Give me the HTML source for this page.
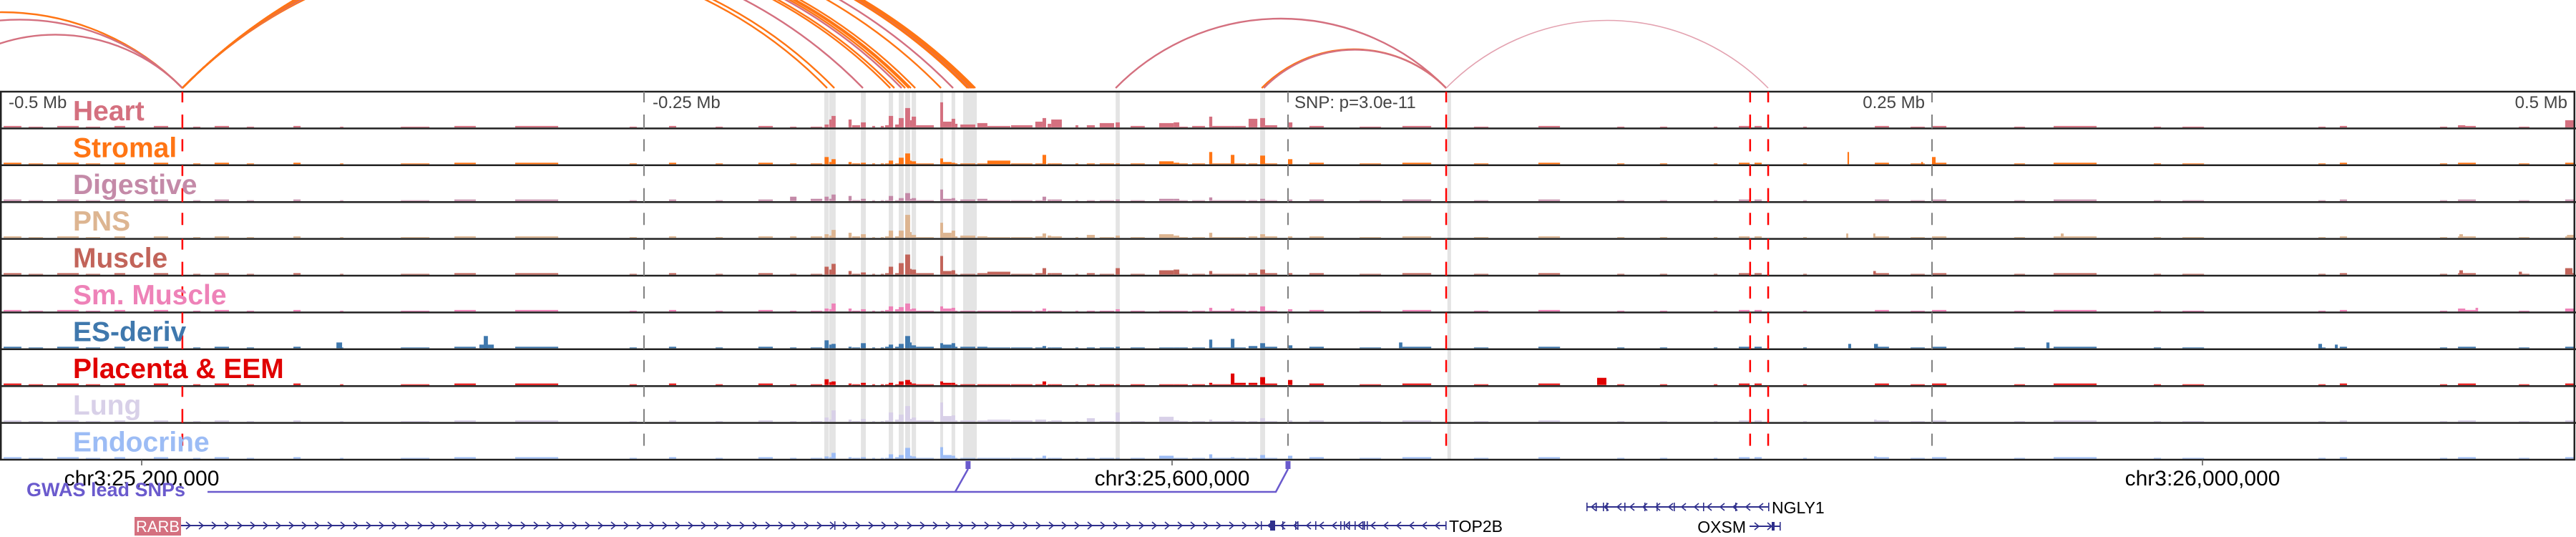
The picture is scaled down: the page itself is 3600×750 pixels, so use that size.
<!DOCTYPE html>
<html><head><meta charset="utf-8">
<style>
html,body{margin:0;padding:0;background:#fff;}
svg{display:block;font-family:"Liberation Sans",Arial,sans-serif;}
</style></head>
<body>
<svg id="chart" width="3600" height="750" viewBox="0 0 3600 750" xmlns="http://www.w3.org/2000/svg">
<defs><clipPath id="arcclip"><rect x="0" y="0" width="3600" height="125"/></clipPath></defs>
<g id="bands"></g>
<g id="arcs" clip-path="url(#arcclip)"></g>
<g id="bars"></g>
<g id="seps"></g>
<g id="vlines"></g>
<g id="labels"></g>
<g id="axis"></g>
<g id="gwas"></g>
<g id="genes"></g>
</svg>
<script>
// ---------- data ----------
const trackNames = ["Heart","Stromal","Digestive","PNS","Muscle","Sm. Muscle","ES-deriv","Placenta & EEM","Lung","Endocrine"];
const trackColors = ["#d4707f","#ff7514","#c48aa8","#ddb591","#c2645a","#ee82b8","#3f78ad","#e00000","#d8d0e8","#9cbcf5"];
const binStartKb = [-193.3,-185.3,-179.9,-178.1,-177.2,-170.6,-169.2,-165.8,-161.4,-158.1,-156.4,-155.0,-152.5,-151.1,-148.6,-146.7,-146.1,-144.4,-135.0,-133.9,-130.6,-129.2,-127.2,-120.6,-116.7,-107.5,-98.1,-95.3,-93.3,-91.9,-82.5,-78.1,-73.1,-66.9,-61.1,-50.0,-44.4,-42.2,-37.2,-30.6,-29.4,-22.2,-20.8,-15.3,-10.8,-8.9,0];
const binEndKb = [-190.8,-180.8,-178.3,-177.2,-175.6,-169.4,-166.1,-163.9,-160.3,-156.9,-155.0,-153.3,-151.1,-149.2,-146.7,-146.1,-144.4,-137.5,-133.9,-130.6,-129.2,-128.3,-121.4,-116.7,-107.8,-99.2,-95.3,-93.9,-91.9,-87.8,-81.4,-75.0,-67.5,-65.3,-55.6,-44.4,-42.2,-38.9,-32.2,-29.4,-22.2,-20.8,-16.4,-11.9,-8.9,-4.2,1.7];
const heartVals = [1,1,4,11,16,11,3,7,2,2,3,16,4,13,27,10,15,3,35,8,12,5,4,6,2,3,8,13,5,11,3,3,6,7,2,6,7,1,2,15,2,2,2,12,13,3,7];
const stromalVals = [1,1,10,3,7,3,1,2,1,1,1,5,1,9,15,5,4,1,8,3,2,1,1,1,5,1,1,13,1,1,1,1,1,1,1,4,2,1,1,17,1,13,1,1,12,1,7];
const digestiveVals = [6,3,6,3,9,7,1,3,1,1,1,7,1,4,11,3,4,1,16,3,4,1,2,3,1,1,1,6,2,2,1,1,1,2,1,3,3,1,1,5,1,1,1,1,3,1,2];
const pnsVals = [2,2,5,3,11,7,2,5,1,1,2,10,2,10,32,8,4,1,21,7,10,2,3,2,1,1,2,6,3,2,1,4,1,3,1,5,3,1,1,7,1,1,1,2,5,2,2];
const muscleVals = [1,1,11,7,15,5,1,3,1,1,2,11,2,16,28,8,7,2,26,5,6,1,1,2,4,1,2,9,2,2,1,2,1,9,1,6,7,1,1,5,1,1,1,2,7,2,2];
const smMuscleVals = [1,1,4,3,11,4,1,3,1,1,2,7,3,6,11,3,4,1,7,4,5,1,1,1,1,1,1,4,1,1,1,1,1,3,1,1,1,1,1,5,1,4,1,1,7,1,3];
const esDerivVals = [1,1,11,5,6,2,1,7,1,1,2,5,2,6,17,8,4,2,7,5,7,2,2,2,1,1,1,3,1,1,1,1,1,2,1,1,1,1,1,12,1,13,1,3,7,2,4];
const placentaVals = [1,1,8,4,5,2,1,3,1,1,1,3,1,5,7,4,2,1,5,3,3,1,1,1,1,1,1,5,1,1,1,1,1,1,1,1,1,1,1,3,1,16,3,3,11,2,7];
const lungVals = [1,1,6,3,16,3,1,4,1,1,2,13,3,10,22,4,6,2,27,8,9,2,2,2,3,2,3,3,1,2,1,5,1,13,1,7,2,1,1,3,1,2,1,1,5,1,2];
const endocrineVals = [1,1,3,2,8,2,1,2,1,1,1,6,2,5,15,4,3,1,16,5,4,1,1,1,1,1,1,4,1,1,1,1,1,1,1,4,1,1,1,6,1,2,1,1,5,1,4];
const trackVals = [heartVals,stromalVals,digestiveVals,pnsVals,muscleVals,smMuscleVals,esDerivVals,placentaVals,lungVals,endocrineVals];
// background sparse bins (shared)
const bgStartKb = [-498.6,-488.9,-477.8,-466.7,-455.6,-440.3,-425,-416.7,-404.2,-386.1,-368,-344.4,-323.6,-300,-255.6,-240.3,-222.2,-205.6,8.3,27.8,44.4,72.2,97.2,127.8,144.4,165.3,175,181.1,200,227.8,241.7,250,281.9,297.2,336.1,347.2,400,408.3,447.2,454.2,477.8,495.8];
const bgEndKb = [-491.7,-483.3,-469.4,-461.1,-451.4,-434.7,-422.2,-411.1,-401.4,-383.3,-366.7,-333.3,-315.3,-283.3,-252.8,-237.5,-219.4,-200,13.9,36.1,55.6,77.8,105.6,130.6,147.2,166.7,179.2,183.9,201.4,233.3,247.2,255.6,286.1,313.9,338.9,355.6,402.8,411.1,450,461.1,481.9,499.4];
const bgVals = [2,1,2,1,2,2,1,2,1,2,1,1,2,2,1,2,1,2,2,1,2,1,2,1,1,1,2,2,1,2,1,2,1,2,1,1,1,2,1,2,1,2];
// extra isolated peaks: track index, start/end kb, value
const extraTrack = [6,6,6,6,6,6,6,6,6,7,1,1,1,0,0,4,4,4,4,3,3,3,3,3,5,5,5,8,9];
const extraStartKb = [-369.4,-313.9,-312.2,43.1,217.5,227.5,294.4,400,406.4,120,217.2,250,245.8,495.8,454.2,454.7,495.8,477.8,227.2,216.7,227.2,300,454.7,496.5,454.2,461,495.8,227.5,227.5];
const extraEndKb = [-367.2,-308.3,-310.6,44.4,218.6,229,295.6,401.4,407.5,123.6,217.8,251.4,246.5,499.2,457,456.1,498.6,479,228.2,217.5,228,301.1,456.1,499.4,457,462,499.4,228.5,228.5];
const extraVals = [8,5,17,8,6,6,8,6,5,10,17,10,3,10,3,6,9,4,5,6,6,6,5,4,4,5,4,3,3];
// highlight regions (kb)
const bandStartKb = [-180,-178.1,-165.8,-155,-151.1,-148.6,-146.1,-135,-130.6,-126.1,-66.9,-10.8,61.9];
const bandEndKb = [-178.3,-175.6,-163.9,-153.3,-149.2,-146.7,-144.4,-133.9,-129.2,-120.8,-65.3,-8.9,63.3];
// marker lines
const redLineKb = [-429.2,61.4,179.4,186.4];
const grayLineKb = [-250,0,250];
const tickKb = [-500,-250,250,500];
const tickLabels = ["-0.5 Mb","-0.25 Mb","0.25 Mb","0.5 Mb"];
const chrLabelKb = [-445,-45,355];
const chrLabels = ["chr3:25,200,000","chr3:25,600,000","chr3:26,000,000"];
// arcs
const arcStartKb = [-569.4,-555.6,-527.8,-429.2,-429.2,-429.2,-429.2,-429.2,-429.2,-429.2,-429.2,-429.2,-429.2,-429.2,-429.2,-429.2,-429.2,-429.2,-429.2,-429.2,-429.2,-429.2,-429.2,-66.9,-10.2,-9.4,61.4];
const arcEndKb = [-429.2,-429.2,-429.2,-178.9,-176.1,-165,-154.4,-152.8,-150,-148.6,-147.2,-146.4,-144.7,-134.7,-130,-124.4,-123.9,-123.6,-123.1,-122.8,-122.3,-121.9,-121.4,61.4,61.4,61.4,186.4];
const arcKind = ["o","p","p","o","o","p","o","o","p","o","o","o","o","o","p","o","o","o","p","o","o","o","o","p","o","p","l"];
const snpKb = [-124.2,0];

// ---------- scales ----------
const PX_PER_KB = 3.6, X0 = 1800;
const xS = kb => X0 + kb*PX_PER_KB;
const TOP = 128, TH = 51.4;
const trackBottom = i => TOP + (i+1)*TH - 1.5;
const yS = (i,v) => trackBottom(i) - v;
const NS = "http://www.w3.org/2000/svg";
function mk(tag, attrs, parent){const e=document.createElementNS(NS,tag);for(const k in attrs)e.setAttribute(k,attrs[k]);parent.appendChild(e);return e;}
const $ = id => document.getElementById(id);

// bands
bandStartKb.forEach((s,i)=>{
  const r = mk('rect',{x:xS(s),y:TOP,width:Math.max(1,xS(bandEndKb[i])-xS(s)),height:TH*10,fill:'#e4e4e4'},$('bands'));
  
  
});

// bars
function bar(t,s,e,v,parent){
  const x1=xS(s), x2=xS(e);
  const r = mk('rect',{x:x1,y:yS(t,v),width:Math.max(1.2,x2-x1),height:v,fill:trackColors[t]},parent);
  
  
}
trackVals.forEach((vals,t)=>{
  const g = mk('g',{},$('bars'));
  
  
  vals.forEach((v,i)=>bar(t,binStartKb[i],binEndKb[i],v,g));
  bgVals.forEach((v,i)=>bar(t,bgStartKb[i],bgEndKb[i],v,g));
  extraTrack.forEach((tr,i)=>{ if(tr===t) bar(t,extraStartKb[i],extraEndKb[i],extraVals[i],g); });
});

// separators & border
for(let i=1;i<10;i++){
  const l = mk('line',{x1:0,x2:3600,y1:TOP+i*TH,y2:TOP+i*TH,stroke:'#222','stroke-width':2.5},$('seps'));
  
  
}
const border = mk('rect',{x:1.2,y:TOP,width:3596.6,height:TH*10,fill:'none',stroke:'#222','stroke-width':2.5},$('seps'));



// vertical marker lines
const dash = "15 17 19.4";
grayLineKb.forEach(k=>{
  const l = mk('line',{x1:xS(k),x2:xS(k),y1:TOP,y2:TOP+TH*10,stroke:'#808080','stroke-width':2,'stroke-dasharray':dash},$('vlines'));
  
  
});
redLineKb.forEach(k=>{
  const l = mk('line',{x1:xS(k),x2:xS(k),y1:TOP,y2:TOP+TH*10,stroke:'#ff0000','stroke-width':2.5,'stroke-dasharray':dash},$('vlines'));
  
  
});

// arcs (circular segments, sagitta = 0.42 * half chord)
const arcColors = {o:'#ff7514',p:'#d4707f',l:'#e3a2b0'};
arcStartKb.forEach((s,i)=>{
  const x1=xS(s), x2=xS(arcEndKb[i]);
  const rx=(x2-x1)/2, h=0.42*rx, R=(rx*rx+h*h)/(2*h);
  const p = mk('path',{d:`M${x1},123 A${R},${R} 0 0 1 ${x2},123`,fill:'none',stroke:arcColors[arcKind[i]],'stroke-width':arcKind[i]==='l'?1.6:2.4},$('arcs'));
  
  
});

// track labels
trackNames.forEach((n,i)=>{
  const t = mk('text',{x:102,y:TOP+i*TH+40,fill:trackColors[i],'font-size':39,'font-weight':'bold'},$('labels'));
  t.textContent=n;
  
  
});

// axis ticks (top)
tickKb.forEach((k,i)=>{
  const x=xS(k);
  const anchor = i<2 ? 'start':'end';
  const t = mk('text',{x: i<2 ? Math.max(9,x+12) : Math.min(3588,x-10),y:151,fill:'#444','font-size':24,'text-anchor':anchor},$('axis'));
  t.textContent=tickLabels[i];
  
  
});
const snpT = mk('text',{x:1809,y:151,fill:'#444','font-size':24},$('axis'));
snpT.textContent='SNP: p=3.0e-11';


chrLabelKb.forEach((k,i)=>{
  const tk = mk('line',{x1:xS(k),x2:xS(k),y1:642,y2:650,stroke:'#555','stroke-width':1.5},$('axis'));
  
  
  const t = mk('text',{x:xS(k),y:678,fill:'#000','font-size':30,'text-anchor':'middle'},$('axis'));
  t.textContent=chrLabels[i];
  
  
});

// GWAS track
const gw=$('gwas');
const gl = mk('text',{x:37,y:693,fill:'#6a5acd','font-size':27,'font-weight':'bold'},gw);
gl.textContent='GWAS lead SNPs';


const s1=xS(snpKb[0]), s2=xS(snpKb[1]);
const gp = mk('path',{d:`M290,687 L${s1-18},687 L${s1},655 M${s1-18},687 L${s2-17},687 L${s2},655`,fill:'none',stroke:'#6a5acd','stroke-width':2.5},gw);


snpKb.forEach(k=>{
  const r = mk('rect',{x:xS(k)-3.5,y:644,width:7,height:11,fill:'#6a5acd'},gw);
  
  
});

// genes
const gn=$('genes'), GC='#2f2f8c';
function geneLine(x1,x2,y,dir,name){
  const g = mk('g',{},gn);
  
  
  mk('line',{x1:x1,x2:x2,y1:y,y2:y,stroke:GC,'stroke-width':2},g);
  let d='';
  for(let x=x1+10;x<x2-6;x+=18){
    d+= dir>0 ? `M${x-3},${y-5} L${x+3},${y} L${x-3},${y+5} ` : `M${x+3},${y-5} L${x-3},${y} L${x+3},${y+5} `;
  }
  mk('path',{d:d,fill:'none',stroke:GC,'stroke-width':1.6},g);
  return g;
}
function exon(x,y,w,h,g){mk('rect',{x:x,y:y-h/2,width:w,height:h,fill:GC},g);}
const rbox = mk('rect',{x:188,y:722,width:65,height:26,fill:'#d4707f'},gn);


const rt = mk('text',{x:220.5,y:743,fill:'#fff','font-size':22,'text-anchor':'middle'},gn);
rt.textContent='RARB';


const rarb = geneLine(253,1765,734,1,'rarb-gene');
[1166,1762].forEach(x=>exon(x,734,1.5,12,rarb));
const top2b = geneLine(1765,2021,734,-1,'top2b-gene');
exon(1775,734,7,14,top2b);
[1780,1792,1810,1813,1838,1873,1878,1885,1893,1904,1906,1910,2020].forEach(x=>exon(x,734,1.6,12,top2b));
const tt = mk('text',{x:2025,y:743,fill:'#000','font-size':23},gn);
tt.textContent='TOP2B';


const ngly = geneLine(2217,2471,708,-1,'ngly1-gene');
[2217,2230,2240,2245,2270,2298,2315,2339,2380,2425,2471].forEach(x=>exon(x,708,1.6,12,ngly));
const nt = mk('text',{x:2476,y:717,fill:'#000','font-size':23},gn);
nt.textContent='NGLY1';


const oxsm = geneLine(2445,2488,735,1,'oxsm-gene');
exon(2476,735,4,12,oxsm); exon(2487,735,1.6,12,oxsm);
const ot = mk('text',{x:2440,y:744,fill:'#000','font-size':23,'text-anchor':'end'},gn);
ot.textContent='OXSM';


</script>
</body></html>
